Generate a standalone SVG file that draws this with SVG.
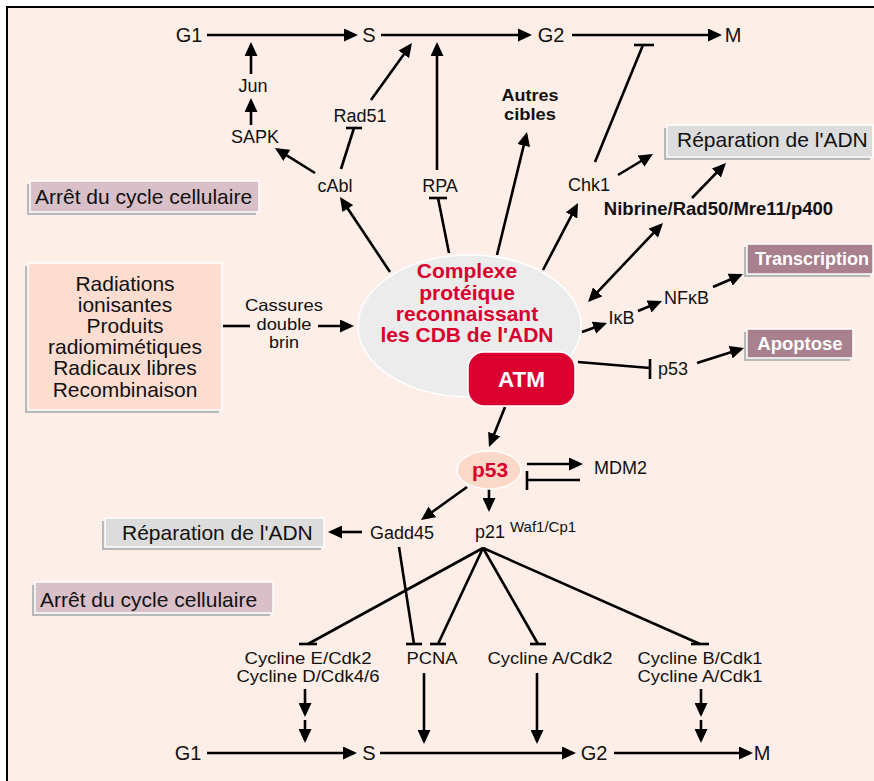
<svg xmlns="http://www.w3.org/2000/svg" width="874" height="781" viewBox="0 0 874 781">
<defs>
<style>
text{font-family:"Liberation Sans",Arial,sans-serif;fill:#111}
.lbl{font-size:18px}
.ph{font-size:20px}
.box{font-size:21px}
.sm{font-size:16.5px}
.b{font-weight:bold}
.w{fill:#fff}
.red{fill:#D9002F}
.c{text-anchor:middle}
.ln{stroke:#000;stroke-width:2.6;fill:none}
.ar{stroke:#000;stroke-width:2.6;fill:none;marker-end:url(#ah)}
.da{stroke:#000;stroke-width:2.6;fill:none;marker-end:url(#ah);marker-start:url(#ahs)}
.sh{fill:#b9b9b9}
.gray{fill:#dcdcdc;stroke:#fff;stroke-width:1.5}
.mauve{fill:#a8808e;stroke:#fff;stroke-width:1.5}
.pink{fill:#d9bfc7;stroke:#fff;stroke-width:1.5}
</style>
<marker id="ah" markerUnits="userSpaceOnUse" markerWidth="14" markerHeight="13" viewBox="0 0 14 13" refX="11" refY="6.5" orient="auto"><path d="M0,0 L14,6.5 L0,13 z" fill="#000"/></marker>
<marker id="ahs" markerUnits="userSpaceOnUse" markerWidth="14" markerHeight="13" viewBox="0 0 14 13" refX="11" refY="6.5" orient="auto-start-reverse"><path d="M0,0 L14,6.5 L0,13 z" fill="#000"/></marker>
</defs>
<rect x="0" y="0" width="874" height="781" fill="#fff"/>
<rect x="7" y="7" width="880" height="790" fill="#fdeee7" stroke="#000" stroke-width="2"/>

<g id="connectors">
<line class="ar" x1="207" y1="35" x2="355" y2="35"/>
<line class="ar" x1="381" y1="35" x2="529" y2="35"/>
<line class="ar" x1="572" y1="35" x2="719" y2="35"/>
<line class="ar" x1="251" y1="125" x2="251" y2="101"/>
<line class="ar" x1="251" y1="74" x2="251" y2="45"/>
<line class="ar" x1="315" y1="173" x2="277.5" y2="149.6"/>
<line class="ln" x1="341" y1="169" x2="354" y2="128"/>
<line class="ln" x1="346" y1="128" x2="362" y2="128"/>
<line class="ar" x1="371" y1="100" x2="410.2" y2="45.4"/>
<line class="ar" x1="437" y1="170" x2="437" y2="45"/>
<line class="ln" x1="449" y1="253" x2="438" y2="198"/>
<line class="ln" x1="429" y1="198" x2="447" y2="198"/>
<line class="ar" x1="497" y1="255" x2="526.3" y2="134.9"/>
<line class="ar" x1="543" y1="270" x2="576.6" y2="205.7"/>
<line class="ln" x1="595" y1="162" x2="643" y2="45"/>
<line class="ln" x1="634" y1="45" x2="654" y2="45"/>
<line class="ar" x1="618" y1="175" x2="650.4" y2="155.5"/>
<line class="da" x1="590.1" y1="299.8" x2="660.9" y2="225.2"/>
<line class="ar" x1="692" y1="198" x2="723.9" y2="165.2"/>
<line class="ar" x1="390" y1="272" x2="341.7" y2="199.5"/>
<line class="ln" x1="223" y1="326" x2="250" y2="326"/>
<line class="ar" x1="318" y1="326" x2="351" y2="326"/>
<line class="ar" x1="582" y1="332" x2="604.2" y2="324"/>
<line class="ar" x1="638" y1="311" x2="659.2" y2="302.2"/>
<line class="ar" x1="713" y1="287" x2="740.2" y2="275.2"/>
<line class="ln" x1="578" y1="362" x2="650" y2="368"/>
<line class="ln" x1="650" y1="359" x2="650" y2="379"/>
<line class="ar" x1="697" y1="363" x2="741.1" y2="348.9"/>
<line class="ar" x1="505" y1="407" x2="490.1" y2="444.2"/>
<line class="ar" x1="527" y1="464" x2="580" y2="464"/>
<line class="ln" x1="580" y1="480" x2="527" y2="480"/>
<line class="ln" x1="527" y1="471" x2="527" y2="490"/>
<line class="ar" x1="489" y1="489" x2="489" y2="509"/>
<line class="ar" x1="467" y1="487" x2="423.4" y2="518.3"/>
<line class="ar" x1="362" y1="532" x2="331" y2="532"/>
<line class="ln" x1="399" y1="547" x2="414" y2="644"/>
<line class="ln" x1="406" y1="644" x2="422" y2="644"/>
<line class="ln" x1="483" y1="548" x2="308" y2="644"/>
<line class="ln" x1="299" y1="644" x2="317" y2="644"/>
<line class="ln" x1="483" y1="548" x2="438" y2="644"/>
<line class="ln" x1="430" y1="644" x2="446" y2="644"/>
<line class="ln" x1="483" y1="548" x2="538" y2="644"/>
<line class="ln" x1="530" y1="644" x2="546" y2="644"/>
<line class="ln" x1="483" y1="548" x2="700" y2="644"/>
<line class="ln" x1="691" y1="644" x2="709" y2="644"/>
<line class="ar" x1="305" y1="689" x2="305" y2="714"/>
<line class="ar" x1="305" y1="720" x2="305" y2="740"/>
<line class="ar" x1="424" y1="673" x2="424" y2="741"/>
<line class="ar" x1="537" y1="673" x2="537" y2="741"/>
<line class="ar" x1="701" y1="689" x2="701" y2="714"/>
<line class="ar" x1="701" y1="720" x2="701" y2="740"/>
<line class="ar" x1="207" y1="753" x2="354" y2="753"/>
<line class="ar" x1="380" y1="753" x2="573" y2="753"/>
<line class="ar" x1="614" y1="753" x2="750" y2="753"/>
</g>

<g id="phases-top">
<text class="ph c" x="189" y="42">G1</text>
<text class="ph c" x="369" y="42">S</text>
<text class="ph c" x="551" y="42">G2</text>
<text class="ph c" x="733" y="42">M</text>
</g>
<g id="jun"><text class="lbl c" x="253" y="92">Jun</text></g>
<g id="sapk"><text class="lbl c" x="255" y="143">SAPK</text></g>
<g id="cabl"><text class="lbl c" x="335" y="192">cAbl</text></g>
<g id="rad51"><text class="lbl c" x="360" y="122">Rad51</text></g>
<g id="rpa"><text class="lbl c" x="440" y="192">RPA</text></g>
<g id="autres"><text class="b c" style="font-size:16.5px" x="530" y="101" textLength="57" lengthAdjust="spacingAndGlyphs">Autres</text><text class="b c" style="font-size:16.5px" x="530" y="120" textLength="52" lengthAdjust="spacingAndGlyphs">cibles</text></g>
<g id="chk1"><text class="lbl c" x="589" y="191">Chk1</text></g>
<g id="reparation-top">
<rect class="sh" x="664" y="128" width="206" height="32"/>
<rect class="gray" x="667" y="125" width="206" height="32"/>
<text class="box" x="677" y="147">Réparation de l'ADN</text>
</g>
<g id="nibrine"><text class="b c" style="font-size:18.5px" x="718.5" y="215">Nibrine/Rad50/Mre11/p400</text></g>
<g id="arret-top">
<rect class="sh" x="27" y="184" width="229" height="31"/>
<rect class="pink" x="30" y="181" width="229" height="31"/>
<text class="box" x="35" y="204">Arrêt du cycle cellulaire</text>
</g>
<g id="radiations">
<rect class="sh" x="25" y="266" width="194" height="147"/>
<rect x="28" y="263" width="194" height="147" fill="#fcddd0" stroke="#fff" stroke-width="1.5"/>
<text class="box c" x="125" y="291">Radiations</text>
<text class="box c" x="125" y="312">ionisantes</text>
<text class="box c" x="125" y="333">Produits</text>
<text class="box c" x="125" y="354">radiomimétiques</text>
<text class="box c" x="125" y="375">Radicaux libres</text>
<text class="box c" x="125" y="397">Recombinaison</text>
</g>
<g id="cassures">
<text class="sm c" x="284" y="311" textLength="78" lengthAdjust="spacingAndGlyphs">Cassures</text>
<text class="sm c" x="284" y="329.5" textLength="55" lengthAdjust="spacingAndGlyphs">double</text>
<text class="sm c" x="284" y="348" textLength="30" lengthAdjust="spacingAndGlyphs">brin</text>
</g>
<g id="complexe">
<ellipse cx="469.5" cy="326" rx="111.5" ry="71" fill="#ececec" stroke="#fff" stroke-width="1.5"/>
<text class="b c red" style="font-size:21px" x="467" y="278">Complexe</text>
<text class="b c red" style="font-size:21px" x="467" y="300">protéique</text>
<text class="b c red" style="font-size:21px" x="467" y="321">reconnaissant</text>
<text class="b c red" style="font-size:21px" x="467" y="342">les CDB de l'ADN</text>
</g>
<g id="atm">
<rect x="468" y="352" width="107" height="54" rx="16" fill="#da0030" stroke="#fff" stroke-width="1.5"/>
<text class="b c w" style="font-size:22.5px" x="521.5" y="387">ATM</text>
</g>
<g id="ikb"><text class="lbl c" x="621.5" y="324">IκB</text></g>
<g id="nfkb"><text class="lbl c" x="686.5" y="304">NFκB</text></g>
<g id="transcription">
<rect class="sh" x="744" y="247" width="126" height="30"/>
<rect class="mauve" x="747" y="244" width="126" height="30"/>
<text class="b w" style="font-size:18px" x="755" y="265">Transcription</text>
</g>
<g id="p53-right"><text class="lbl" x="658" y="375">p53</text></g>
<g id="apoptose">
<rect class="sh" x="744" y="332" width="106" height="29"/>
<rect class="mauve" x="747" y="329" width="106" height="29"/>
<text class="b c w" style="font-size:18.5px" x="800" y="350">Apoptose</text>
</g>
<g id="p53">
<ellipse cx="489" cy="470" rx="32" ry="19" fill="#fbd8c8" stroke="#fff" stroke-width="1.5"/>
<text class="b c red" style="font-size:21px" x="490" y="477">p53</text>
</g>
<g id="mdm2"><text class="lbl" x="594" y="474">MDM2</text></g>
<g id="p21"><text class="lbl" x="475" y="538">p21</text><text style="font-size:15px" x="510" y="532">Waf1/Cp1</text></g>
<g id="gadd45"><text class="lbl" x="370" y="539">Gadd45</text></g>
<g id="reparation-bottom">
<rect class="sh" x="102" y="521" width="219" height="29"/>
<rect class="gray" x="105" y="518" width="219" height="29"/>
<text class="box" x="122" y="540">Réparation de l'ADN</text>
</g>
<g id="arret-bottom">
<rect class="sh" x="32" y="585" width="238" height="31"/>
<rect class="pink" x="35" y="582" width="238" height="31"/>
<text class="box" x="40" y="607">Arrêt du cycle cellulaire</text>
</g>
<g id="cyclineE">
<text class="sm c" x="308" y="664" textLength="127" lengthAdjust="spacingAndGlyphs">Cycline E/Cdk2</text>
<text class="sm c" x="308" y="682" textLength="143" lengthAdjust="spacingAndGlyphs">Cycline D/Cdk4/6</text>
</g>
<g id="pcna"><text class="sm c" x="432" y="664" textLength="51" lengthAdjust="spacingAndGlyphs">PCNA</text></g>
<g id="cyclineA"><text class="sm c" x="550" y="664" textLength="125" lengthAdjust="spacingAndGlyphs">Cycline A/Cdk2</text></g>
<g id="cyclineB">
<text class="sm c" x="700" y="664" textLength="125" lengthAdjust="spacingAndGlyphs">Cycline B/Cdk1</text>
<text class="sm c" x="700" y="682" textLength="125" lengthAdjust="spacingAndGlyphs">Cycline A/Cdk1</text>
</g>
<g id="phases-bottom">
<text class="ph c" x="188" y="760">G1</text>
<text class="ph c" x="369" y="760">S</text>
<text class="ph c" x="594" y="760">G2</text>
<text class="ph c" x="762" y="760">M</text>
</g>
</svg>
